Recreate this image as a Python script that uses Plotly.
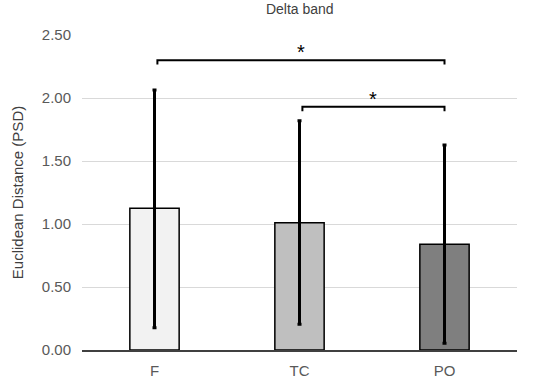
import plotly.graph_objects as go

categories = ["F", "TC", "PO"]
means = [1.125, 1.01, 0.84]
err_upper = [2.063, 1.82, 1.627]
err_lower = [0.177, 0.204, 0.053]
bar_colors = ["#f2f2f2", "#bfbfbf", "#7f7f7f"]
y_ticks = [0.0, 0.5, 1.0, 1.5, 2.0, 2.5]
# significance brackets: (start index, end index, level)
brackets = [(0, 2, 2.30), (1, 2, 1.93)]

plus = [u - m for u, m in zip(err_upper, means)]
minus = [m - l for l, m in zip(err_lower, means)]

FONT = "Liberation Sans, Arial, sans-serif"

fig = go.Figure()
fig.add_trace(go.Bar(
    x=list(range(len(categories))), y=means,
    marker=dict(color=bar_colors, line=dict(color="black", width=1.5)),
    width=0.34,
    error_y=dict(type="data", array=plus, arrayminus=minus, symmetric=False,
                 color="black", thickness=3, width=2),
))

for a, b, lvl in brackets:
    xa, xb = a + 0.02, b
    fig.add_shape(type="path",
                  path=f"M {xa},{lvl-0.035} L {xa},{lvl} L {xb},{lvl} L {xb},{lvl-0.035}",
                  line=dict(color="black", width=2), xref="x", yref="y")
    fig.add_annotation(x=(xa + xb) / 2, y=lvl, yshift=-5, text="*", showarrow=False,
                       yanchor="bottom", font=dict(size=20, color="black", family=FONT))

fig.update_layout(
    width=550, height=380,
    margin=dict(l=82, r=33, t=35, b=30),
    paper_bgcolor="white", plot_bgcolor="white",
    font=dict(family=FONT, color="#595959", size=15),
    title=dict(text="Delta band", x=0.545, xanchor="center", y=0.99, yanchor="top",
               font=dict(size=14, color="#404040")),
    showlegend=False,
    bargap=0.6,
)
fig.update_xaxes(range=[-0.5, 2.5], tickvals=list(range(len(categories))), ticktext=categories,
                 showgrid=False, showline=True, linecolor="#404040", linewidth=1.5,
                 ticks="", zeroline=False, automargin=False, ticklabelstandoff=6,
                 tickfont=dict(size=15, color="#595959"))
fig.update_yaxes(range=[0, 2.5], tickvals=y_ticks, ticktext=[f"{v:.2f}" for v in y_ticks],
                 showgrid=True, gridcolor="#d9d9d9", gridwidth=1, zeroline=False,
                 showline=False, ticks="", ticklen=0, automargin=False, ticklabelstandoff=10,
                 title=dict(text="Euclidean Distance (PSD)", standoff=14,
                            font=dict(size=15, color="#404040")),
                 tickfont=dict(size=15, color="#595959"))

fig.write_html("out.html", config={"displayModeBar": False},
               post_script="document.body.style.margin='0';document.body.style.padding='0';")
